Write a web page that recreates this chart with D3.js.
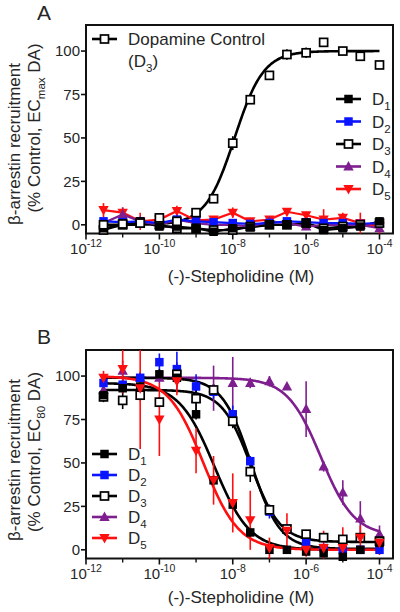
<!DOCTYPE html>
<html><head><meta charset="utf-8">
<script src="https://cdn.jsdelivr.net/npm/d3@7/dist/d3.min.js"></script>
<style>body{margin:0;background:#fff;} svg{display:block;font-family:Arial,"Liberation Sans",sans-serif;}</style>
</head><body><svg id="c" width="400" height="612"></svg>
<script>
// ---------- DATA ----------
const conc = [3e-12,1e-11,3e-11,1e-10,3e-10,1e-9,3e-9,1e-8,3e-8,1e-7,3e-7,1e-6,3e-6,1e-5,3e-5,1e-4];
const xTickValues = [1e-12,1e-10,1e-8,1e-6,1e-4];
const xTickExps = ["-12","-10","-8","-6","-4"];
const xMinorTicks = [1e-11,1e-9,1e-7,1e-5];
const yTicks = [0,25,50,75,100];
const seriesNames = ["D1","D2","D3","D4","D5"];

// Panel A (agonist mode)
const aCtrl    = [0, 0.5, 1, 4, 2, 7, 15, 47, 72, 86, 98, 99, 105, 100, 97, 92];
const aCtrlErr = [1, 1, 1, 1, 1, 1, 1, 4, 1, 1, 3, 3, 1, 1, 1, 1];
const aCtrlFit = {bottom: 0, top: 100, logEC50: -7.95, hill: 1.1};
const aD1 = [-2, 0, 2, -1, -1, -2, -4, -2, -1.5, 0, 0, 1, -3, -2, -1, 2];
const aD2 = [2, 1.5, 2, 1, 3, 2, 1.5, 1, 0.5, 1, 2, 1.5, 1, 1, 0.5, 1];
const aD3 = [-3, 0, 1, 0, -2, -2, -3, -3, -1, 0, 0, 1, -2, -1, 0, 1];
const aD4 = [1, 6, 2, 0, 3, 1, 0, 0, -1, 2, 1, -1, 0, 0, 0, -2];
const aD5 = [8.5, 7, 2, 3, 8, 2.5, 3, 7, 2, 3, 7.5, 5.5, 3, 4, 1, -1];
const aD1Err = [2, 2, 2, 2, 2, 2, 2, 2, 2, 2, 2, 2, 2, 2, 2, 2];
const aD2Err = [1, 1, 1, 1, 1, 1, 1, 1, 1, 1, 1, 1, 1, 1, 1, 1];
const aD3Err = [2, 2, 2, 2, 2, 2, 2, 2, 2, 2, 2, 2, 2, 2, 2, 2];
const aD4Err = [2, 4, 2, 2, 2, 2, 2, 2, 2, 2, 2, 2, 2, 2, 3, 2];
const aD5Err = [4, 3, 5, 2, 3, 2, 2, 3, 2, 2, 2, 2, 6, 3, 6, 4];

// Panel B (antagonist mode)
const bD1 = [89, 93, 94, 101, 99, 78, 40, 26, 10, 0, 0, -1, -2, -4, 0, 4];
const bD2 = [96, 95, 99, 108, 104, 94, 91, 78, 51, 22, 12, 4, 1, 0, 0, 0];
const bD3 = [88, 86, 89, 85, 101, 87, 92, 74, 45, 23, 12, 9, 7, 6, 7, 5];
const bD4 = [92, 103, 99, 99, 100, 87, 93, 96, 96, 97, 94, 81, 48, 33, 18, 9];
const bD5 = [99, 104, 93, 75, 97, 57, 40, 27, 17, 1, 11, 0, 1, 1, 7, 4];
const bD1Err = [3, 2, 2, 3, 3, 3, 3, 3, 3, 2, 2, 2, 2, 2, 2, 2];
const bD2Err = [4, 3, 3, 5, 10, 7, 4, 5, 3, 4, 2, 2, 2, 2, 2, 2];
const bD3Err = [3, 5, 3, 3, 3, 6, 3, 4, 6, 3, 2, 2, 2, 2, 2, 2];
const bD4Err = [4, 6, 3, 3, 8, 8, 13, 15, 3, 3, 2, 16, 3, 7, 10, 5];
const bD5Err = [4, 14, 35, 21, 8, 13, 14, 17, 17, 6, 10, 4, 10, 12, 7, 7];
const bFits = [
  {bottom: 0,   top: 96, logEC50: -8.5, hill: -0.9},
  {bottom: 0.5, top: 99, logEC50: -7.5, hill: -1.1},
  {bottom: 4.5, top: 92, logEC50: -7.5, hill: -1.1},
  {bottom: 8,   top: 99, logEC50: -5.6, hill: -0.95},
  {bottom: 0,   top: 100, logEC50: -8.8, hill: -0.9}
];

// ---------- STYLE ----------
const colors = ["#000000", "#0a14ff", "#000000", "#7f1f8f", "#ff1010"];
const fitColors = ["#000000", "#000000", "#000000", "#7f1f8f", "#ff1010"];
const markers = ["square", "square", "open", "tri", "tridown"];
const textColor = "#262626";

const svg = d3.select("#c");
const L = 86, R = 393;
const x = d3.scaleLog().domain([1e-12, 1e-4]).range([86, 379.5]);

function fourPL(logx, p) {
  return p.bottom + (p.top - p.bottom) / (1 + Math.pow(10, (p.logEC50 - logx) * p.hill));
}

function marker(g, type, cx, cy, color) {
  if (type === "square") {
    g.append("rect").attr("x", cx - 4.25).attr("y", cy - 4.25).attr("width", 8.5).attr("height", 8.5).attr("fill", color);
  } else if (type === "open") {
    g.append("rect").attr("x", cx - 4).attr("y", cy - 4).attr("width", 8).attr("height", 8)
      .attr("fill", "#fff").attr("stroke", color).attr("stroke-width", 1.7);
  } else if (type === "tri") {
    g.append("path").attr("d", `M${cx},${cy - 5.5}L${cx + 5.2},${cy + 4}L${cx - 5.2},${cy + 4}Z`).attr("fill", color);
  } else {
    g.append("path").attr("d", `M${cx},${cy + 5.5}L${cx + 5.2},${cy - 4}L${cx - 5.2},${cy - 4}Z`).attr("fill", color);
  }
}

function subText(g, parts, attrs, size) {
  const t = g.append("text").attr("fill", textColor).attr("font-size", size);
  Object.entries(attrs).forEach(([k, v]) => t.attr(k, v));
  parts.forEach(([s, kind]) => {
    const ts = t.append("tspan").text(s);
    if (kind === "sub") ts.attr("font-size", size * 0.68).attr("dy", size * 0.3);
    if (kind === "back") ts.attr("dy", -size * 0.3);
  });
  return t;
}

function axes(top, bottom, y, label, yLab2, letter, letterY, titleY) {
  const g = svg.append("g");
  g.append("rect").attr("x", L).attr("y", top).attr("width", R - L).attr("height", bottom - top)
    .attr("fill", "none").attr("stroke", "#111").attr("stroke-width", 2);
  yTicks.forEach(v => {
    g.append("line").attr("x1", L - 5).attr("x2", L).attr("y1", y(v)).attr("y2", y(v))
      .attr("stroke", "#111").attr("stroke-width", 1.6);
    g.append("text").attr("x", 80).attr("y", y(v)).attr("dy", "0.36em").attr("text-anchor", "end")
      .attr("font-size", 15).attr("fill", textColor).text(v);
  });
  xTickValues.forEach((v, i) => {
    g.append("line").attr("x1", x(v)).attr("x2", x(v)).attr("y1", bottom).attr("y2", bottom + 6)
      .attr("stroke", "#111").attr("stroke-width", 1.6);
    const t = g.append("text").attr("x", x(v)).attr("y", bottom + 20).attr("text-anchor", "middle")
      .attr("font-size", 15).attr("fill", textColor);
    t.append("tspan").text("10");
    t.append("tspan").text(xTickExps[i]).attr("font-size", 10.5).attr("dy", -7);
  });
  xMinorTicks.forEach(v => {
    g.append("line").attr("x1", x(v)).attr("x2", x(v)).attr("y1", bottom).attr("y2", bottom + 4)
      .attr("stroke", "#111").attr("stroke-width", 1.4);
  });
  g.append("text").attr("x", 241).attr("y", titleY).attr("text-anchor", "middle")
    .attr("font-size", 17).attr("fill", textColor).text("(-)-Stepholidine (M)");
  g.append("text").attr("transform", `translate(19.5,${label.y1}) rotate(-90)`).attr("text-anchor", "middle")
    .attr("font-size", 17).attr("fill", textColor).text("\u03b2-arrestin recruitment");
  const gt = g.append("g").attr("transform", `translate(39.5,${label.y2}) rotate(-90)`);
  subText(gt, yLab2, {"text-anchor": "middle"}, 17);
  g.append("text").attr("x", 37).attr("y", letterY).attr("font-size", 21).attr("fill", textColor).text(letter);
}

function errorBars(g, vals, errs, y, color, top, bottom) {
  vals.forEach((v, i) => {
    const y1 = Math.max(top, y(v + errs[i])), y2 = Math.min(bottom, y(v - errs[i]));
    g.append("line").attr("x1", x(conc[i])).attr("x2", x(conc[i])).attr("y1", y1).attr("y2", y2)
      .attr("stroke", color).attr("stroke-width", 1.6);
  });
}

function fitCurve(g, p, y, color) {
  const pts = d3.range(-11.5, -3.999, 0.025).map(lx => [x(Math.pow(10, lx)), y(fourPL(lx, p))]);
  g.append("path").attr("d", d3.line()(pts)).attr("fill", "none").attr("stroke", color).attr("stroke-width", 2.6);
}

function legendEntry(g, x1, x2, tx, cy, i) {
  g.append("line").attr("x1", x1).attr("x2", x2).attr("y1", cy).attr("y2", cy)
    .attr("stroke", colors[i]).attr("stroke-width", 2.6);
  marker(g, markers[i], (x1 + x2) / 2, cy, colors[i]);
  subText(g, [["D", ""], [seriesNames[i].slice(1), "sub"]], {x: tx, y: cy + 6}, 17);
}

// ---------- PANEL A ----------
{
  const top = 25, bottom = 233.5;
  const y = d3.scaleLinear().domain([-5, 115]).range([bottom, top]);
  axes(top, bottom, y, {y1: 144, y2: 128}, [["(% Control, EC", ""], ["max", "sub"], [" DA)", "back"]], "A", 20, 281.5);
  const g = svg.append("g");
  const vals = [aD1, aD2, aD3, aD4, aD5];
  const errs = [aD1Err, aD2Err, aD3Err, aD4Err, aD5Err];
  fitCurve(g, aCtrlFit, y, "#000");
  const lineOrder = [0, 2, 4, 3, 1];
  lineOrder.forEach(i => errorBars(g, vals[i], errs[i], y, colors[i], top, bottom));
  lineOrder.forEach(i => {
    const pts = vals[i].map((v, k) => [x(conc[k]), y(v)]);
    g.append("path").attr("d", d3.line()(pts)).attr("fill", "none").attr("stroke", colors[i]).attr("stroke-width", 2.2);
  });
  [4, 3, 1, 2, 0].forEach(i => {
    vals[i].forEach((v, k) => marker(g, markers[i], x(conc[k]), y(v), colors[i]));
  });
  errorBars(g, aCtrl, aCtrlErr, y, "#000", top, bottom);
  aCtrl.forEach((v, k) => marker(g, "open", x(conc[k]), y(v), "#000"));
  g.append("line").attr("x1", 92).attr("x2", 117).attr("y1", 39).attr("y2", 39).attr("stroke", "#000").attr("stroke-width", 2.6);
  marker(g, "open", 104.5, 39, "#000");
  g.append("text").attr("x", 128).attr("y", 45).attr("font-size", 17).attr("fill", textColor).text("Dopamine Control");
  subText(g, [["(D", ""], ["3", "sub"], [")", "back"]], {x: 128, y: 67}, 17);
  [99, 121.5, 144, 166.5, 189].forEach((cy, i) => legendEntry(g, 336, 361, 372, cy, i));
}

// ---------- PANEL B ----------
{
  const top = 350, bottom = 558.5;
  const y = d3.scaleLinear().domain([-5, 115]).range([bottom, top]);
  axes(top, bottom, y, {y1: 460, y2: 452}, [["(% Control, EC", ""], ["80", "sub"], [" DA)", "back"]], "B", 344, 603);
  const g = svg.append("g");
  const vals = [bD1, bD2, bD3, bD4, bD5];
  const errs = [bD1Err, bD2Err, bD3Err, bD4Err, bD5Err];
  const order = [3, 1, 2, 0, 4];
  order.forEach(i => fitCurve(g, bFits[i], y, fitColors[i]));
  order.forEach(i => errorBars(g, vals[i], errs[i], y, colors[i], top, bottom));
  order.forEach(i => vals[i].forEach((v, k) => marker(g, markers[i], x(conc[k]), y(v), colors[i])));
  [454, 475, 496, 517, 538].forEach((cy, i) => legendEntry(g, 92, 117, 128, cy, i));
}
</script></body></html>
